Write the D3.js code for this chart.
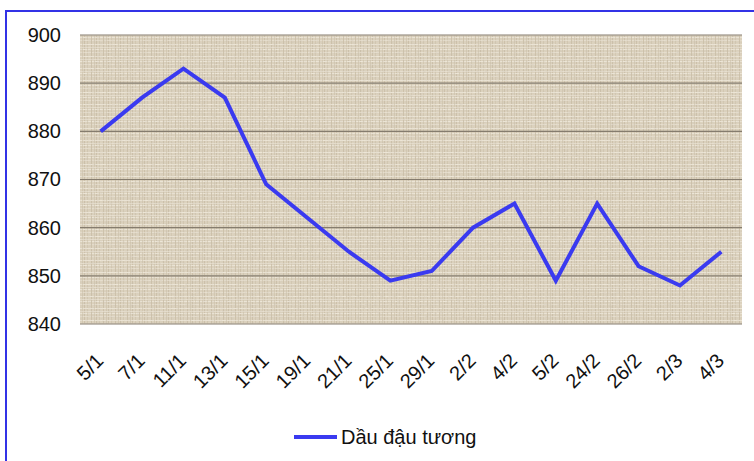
<html>
<head>
<meta charset="utf-8">
<title>Dầu đậu tương</title>
<style>
  body { margin: 0; background: #fff; }
  #chart { width: 754px; height: 461px; }
  text { font-family: "Liberation Sans", Arial, sans-serif; }
</style>
</head>
<body>
<div id="chart"></div>
<script src="https://d3js.org/d3.v7.min.js"></script>
<script>
  const categories = ['5/1', '7/1', '11/1', '13/1', '15/1', '19/1', '21/1', '25/1',
    '29/1', '2/2', '4/2', '5/2', '24/2', '26/2', '2/3', '4/3']
  const values = [880, 887, 893, 887, 869, 862, 855, 849, 851, 860, 865, 849, 865, 852, 848, 855]
  const yTicks = [840, 850, 860, 870, 880, 890, 900]
  const seriesName = 'Dầu đậu tương'

  const width = 754
  const height = 461
  const plotLeft = 80, plotRight = 742, plotTop = 35, plotBottom = 324

  const svg = d3.select('#chart')
    .append('svg')
    .attr('width', width)
    .attr('height', height)

  // outer blue frame
  svg.append('rect')
    .attr('x', 6).attr('y', 11)
    .attr('width', 780).attr('height', 480)
    .attr('fill', '#fff')
    .attr('stroke', '#3232e6')
    .attr('stroke-width', 2)

  // linen texture for the plot area
  const defs = svg.append('defs')
  const pat = defs.append('pattern')
    .attr('id', 'linen')
    .attr('patternUnits', 'userSpaceOnUse')
    .attr('width', 12).attr('height', 12)
  pat.append('rect').attr('width', 12).attr('height', 12).attr('fill', '#ddd3bf')
  ;[0, 3, 7, 10].forEach((p, i) => {
    pat.append('rect').attr('x', p).attr('y', 0).attr('width', 1).attr('height', 12)
      .attr('fill', '#c9bda5').attr('opacity', i % 2 ? 0.5 : 0.8)
    pat.append('rect').attr('x', 0).attr('y', p + 1).attr('width', 12).attr('height', 1)
      .attr('fill', '#efe8da').attr('opacity', i % 2 ? 0.6 : 0.9)
  })
  const filt = defs.append('filter').attr('id', 'grain')
  filt.append('feTurbulence').attr('type', 'fractalNoise')
    .attr('baseFrequency', '0.35 0.9').attr('numOctaves', 2).attr('seed', 4)
  filt.append('feColorMatrix').attr('type', 'matrix')
    .attr('values', '0 0 0 0 0.55  0 0 0 0 0.5  0 0 0 0 0.42  0 0 0 -1.1 0.75')
  filt.append('feComposite').attr('in2', 'SourceGraphic').attr('operator', 'in')

  svg.append('rect')
    .attr('x', plotLeft).attr('y', plotTop)
    .attr('width', plotRight - plotLeft).attr('height', plotBottom - plotTop)
    .attr('fill', 'url(#linen)')
  svg.append('rect')
    .attr('x', plotLeft).attr('y', plotTop)
    .attr('width', plotRight - plotLeft).attr('height', plotBottom - plotTop)
    .attr('fill', '#ddd3bf')
    .attr('filter', 'url(#grain)')
    .attr('opacity', 0.5)

  const x = d3.scaleBand().domain(categories).range([plotLeft, plotRight])
  const y = d3.scaleLinear().domain([840, 900]).range([plotBottom, plotTop])

  // gridlines
  svg.append('g')
    .selectAll('line')
    .data(yTicks)
    .join('line')
    .attr('x1', plotLeft).attr('x2', plotRight)
    .attr('y1', d => y(d)).attr('y2', d => y(d))
    .attr('stroke', '#857c6e')
    .attr('stroke-width', 1.2)

  // y axis
  const yAxis = d3.axisLeft(y).tickValues(yTicks).tickSize(0).tickPadding(19)
  const gy = svg.append('g').attr('transform', `translate(${plotLeft},0)`).call(yAxis)
  gy.select('.domain').remove()
  gy.selectAll('text')
    .style('font-family', '"Liberation Sans", Arial, sans-serif')
    .style('font-size', '20px')
    .attr('fill', '#111')

  // x axis
  const xAxis = d3.axisBottom(x).tickSize(0).tickPadding(0)
  const gx = svg.append('g').attr('transform', `translate(0,${plotBottom})`).call(xAxis)
  gx.select('.domain').remove()
  gx.selectAll('text')
    .style('font-family', '"Liberation Sans", Arial, sans-serif')
    .style('font-size', '20px')
    .attr('fill', '#111')
    .attr('text-anchor', 'end')
    .attr('dy', '0')
    .attr('transform', 'translate(4,38) rotate(-45)')

  // series line
  const line = d3.line()
    .x((d, i) => x(categories[i]) + x.bandwidth() / 2)
    .y(d => y(d))
  svg.append('path')
    .datum(values)
    .attr('d', line)
    .attr('fill', 'none')
    .attr('stroke', '#3a3af0')
    .attr('stroke-width', 4)
    .attr('stroke-linejoin', 'miter')

  // legend
  const lg = svg.append('g').attr('transform', 'translate(294,437)')
  lg.append('line')
    .attr('x1', 0).attr('x2', 43)
    .attr('stroke', '#3a3af0').attr('stroke-width', 4)
  lg.append('text')
    .attr('x', 47).attr('y', 7)
    .style('font-size', '20px')
    .attr('fill', '#111')
    .text(seriesName)
</script>
</body>
</html>
